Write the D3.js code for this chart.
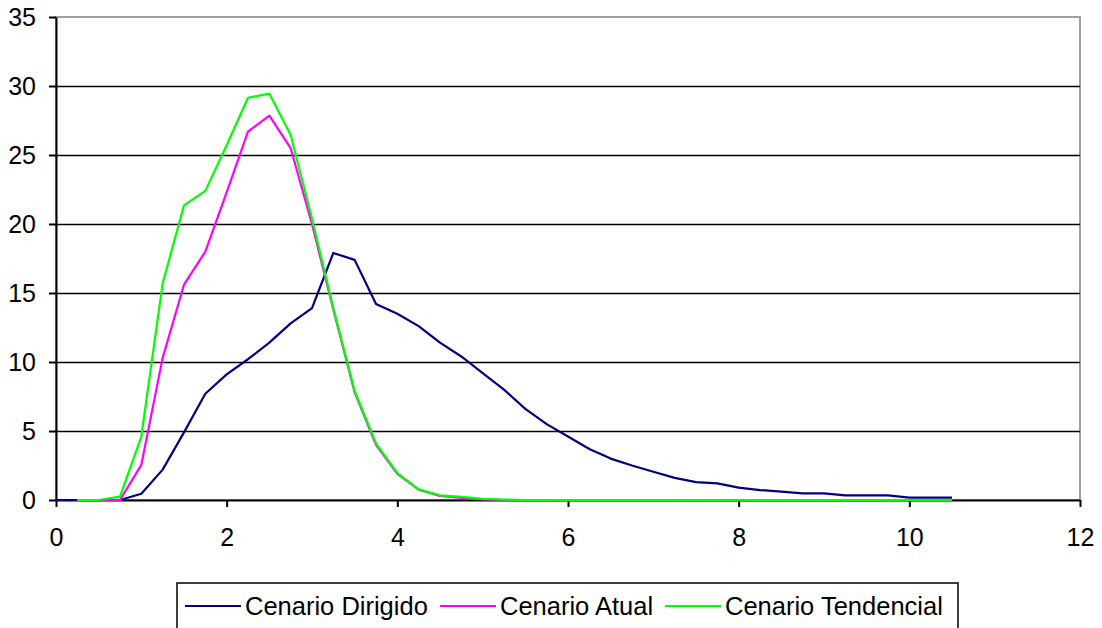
<!DOCTYPE html>
<html>
<head>
<meta charset="utf-8">
<script src="https://cdn.jsdelivr.net/npm/d3@7"></script>
<style>
  html, body { margin: 0; padding: 0; background: #fff; }
  svg { display: block; font-family: "Liberation Sans", Arial, sans-serif; }
</style>
</head>
<body>
<svg id="chart" width="1102" height="628"></svg>
<script>
// Distribution curves for three scenarios, sampled every 0.25 on the x axis
const xDirigido = [0, 0.25, 0.5, 0.75, 1, 1.25, 1.5, 1.75, 2, 2.25, 2.5, 2.75, 3, 3.25, 3.5, 3.75, 4, 4.25, 4.5, 4.75, 5, 5.25, 5.5, 5.75, 6, 6.25, 6.5, 6.75, 7, 7.25, 7.5, 7.75, 8, 8.25, 8.5, 8.75, 9, 9.25, 9.5, 9.75, 10, 10.25, 10.5];
const cenarioDirigido = [0, 0, 0, 0, 0.45, 2.2, 4.9, 7.7, 9.1, 10.2, 11.4, 12.8, 13.9, 17.9, 17.4, 14.2, 13.5, 12.6, 11.4, 10.4, 9.2, 8.0, 6.6, 5.5, 4.6, 3.7, 3.0, 2.5, 2.05, 1.6, 1.3, 1.2, 0.9, 0.72, 0.6, 0.48, 0.48, 0.33, 0.33, 0.33, 0.17, 0.17, 0.17];

const xOutros = [0.25, 0.5, 0.75, 1, 1.25, 1.5, 1.75, 2, 2.25, 2.5, 2.75, 3, 3.25, 3.5, 3.75, 4, 4.25, 4.5, 4.75, 5, 5.25, 5.5, 5.75, 6, 6.25, 6.5, 6.75, 7, 7.25, 7.5, 7.75, 8, 8.25, 8.5, 8.75, 9, 9.25, 9.5, 9.75, 10, 10.25, 10.5];
const cenarioAtual = [0, 0, 0, 2.55, 10.3, 15.6, 18.0, 22.3, 26.7, 27.85, 25.5, 20.0, 13.8, 7.8, 4.0, 1.9, 0.75, 0.3, 0.15, 0.05, 0, 0, 0, 0, 0, 0, 0, 0, 0, 0, 0, 0, 0, 0, 0, 0, 0, 0, 0, 0, 0, 0];
const cenarioTendencial = [0, 0, 0.25, 4.6, 15.7, 21.35, 22.4, 25.7, 29.15, 29.45, 26.45, 20.4, 13.9, 7.9, 4.1, 1.95, 0.77, 0.34, 0.22, 0.08, 0.03, 0, 0, 0, 0, 0, 0, 0, 0, 0, 0, 0, 0, 0, 0, 0, 0, 0, 0, 0, 0, 0];

const xTicks = [0, 2, 4, 6, 8, 10, 12];
const yTicks = [0, 5, 10, 15, 20, 25, 30, 35];

const seriesNames = ["Cenario Dirigido", "Cenario Atual", "Cenario Tendencial"];
const seriesColors = ["#000080", "#ff00ff", "#00ff00"];

const svg = d3.select("#chart");
const plot = { left: 56, right: 1080, top: 17, bottom: 500 };

const x = d3.scaleLinear().domain([0, 12]).range([plot.left, plot.right]);
const y = d3.scaleLinear().domain([0, 35]).range([plot.bottom, plot.top]);

// plot-area frame (grey top and right edges)
svg.append("rect")
  .attr("x", plot.left).attr("y", plot.top)
  .attr("width", plot.right - plot.left).attr("height", plot.bottom - plot.top)
  .attr("fill", "none").attr("stroke", "#a0a0a0").attr("stroke-width", 2);

// horizontal gridlines
svg.append("g")
  .attr("transform", `translate(${plot.left},0)`)
  .call(d3.axisLeft(y).tickValues(yTicks.filter(v => v > 0 && v < 35)).tickSize(-(plot.right - plot.left)).tickFormat(""))
  .call(g => g.select(".domain").remove())
  .call(g => g.selectAll("line").attr("stroke", "#000").attr("stroke-width", 1.6));

// y axis
svg.append("g")
  .attr("transform", `translate(${plot.left},0)`)
  .call(d3.axisLeft(y).tickValues(yTicks).tickSize(7).tickPadding(13).tickSizeOuter(0))
  .call(g => g.select(".domain").attr("stroke", "#000").attr("stroke-width", 2))
  .call(g => g.selectAll("line").attr("stroke", "#000").attr("stroke-width", 2))
  .call(g => g.selectAll("text").attr("font-size", 25).attr("fill", "#000")
    .attr("font-family", "'Liberation Sans', Arial, sans-serif"));

// x axis
svg.append("g")
  .attr("transform", `translate(0,${plot.bottom})`)
  .call(d3.axisBottom(x).tickValues(xTicks).tickSize(7).tickPadding(21).tickSizeOuter(0))
  .call(g => g.select(".domain").attr("stroke", "#000").attr("stroke-width", 2))
  .call(g => g.selectAll("line").attr("stroke", "#000").attr("stroke-width", 2))
  .call(g => g.selectAll("text").attr("font-size", 25).attr("fill", "#000")
    .attr("font-family", "'Liberation Sans', Arial, sans-serif"));

// series lines
const line = d3.line().x(d => x(d[0])).y(d => y(d[1]));
const series = [
  d3.zip(xDirigido, cenarioDirigido),
  d3.zip(xOutros, cenarioAtual),
  d3.zip(xOutros, cenarioTendencial)
];
series.forEach((pts, i) => {
  svg.append("path")
    .datum(pts)
    .attr("d", line)
    .attr("fill", "none")
    .attr("stroke", seriesColors[i])
    .attr("stroke-width", 2.2)
    .attr("stroke-linejoin", "round");
});

// legend
const legend = svg.append("g");
legend.append("rect")
  .attr("x", 177).attr("y", 583).attr("width", 781).attr("height", 60)
  .attr("fill", "#fff").attr("stroke", "#000").attr("stroke-width", 1.5);

const legendX = [185, 440, 665];
seriesNames.forEach((name, i) => {
  const gx = legendX[i];
  legend.append("line")
    .attr("x1", gx).attr("x2", gx + 56)
    .attr("y1", 606).attr("y2", 606)
    .attr("stroke", seriesColors[i]).attr("stroke-width", 2.2);
  legend.append("text")
    .attr("x", gx + 60).attr("y", 615)
    .attr("font-size", 25.5)
    .attr("fill", "#000")
    .text(name);
});
</script>
</body>
</html>
